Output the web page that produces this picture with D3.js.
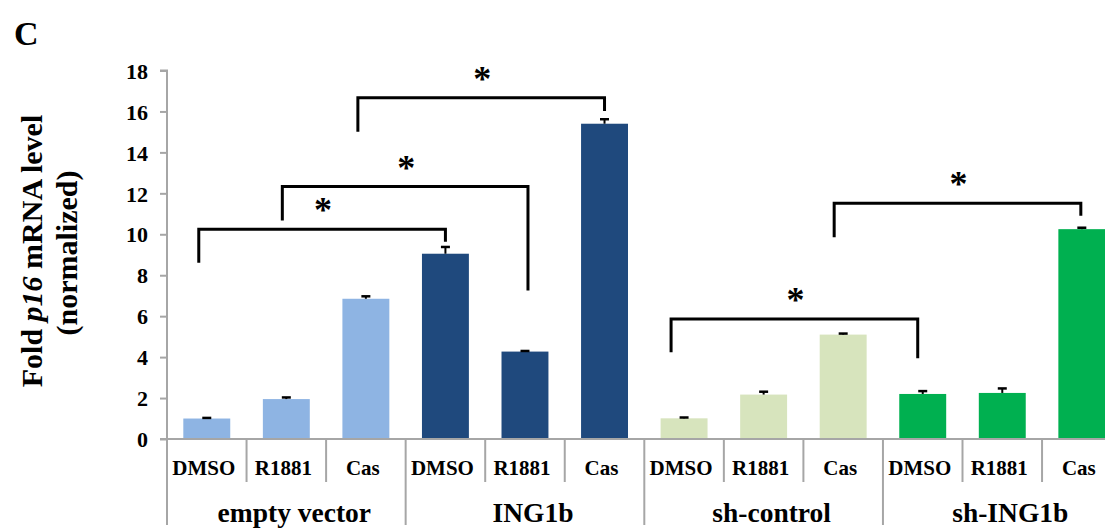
<!DOCTYPE html>
<html>
<head>
<meta charset="utf-8">
<script src="https://cdn.jsdelivr.net/npm/d3@7"></script>
<style>
  html, body { margin: 0; padding: 0; background: #fff; }
  svg { display: block; }
  text { font-family: "Liberation Serif", "Times New Roman", serif; font-weight: bold; fill: #000; }
</style>
</head>
<body>
<svg id="chart" width="1105" height="530"></svg>
<script>
// ---- data ----
const groups = ["empty vector", "ING1b", "sh-control", "sh-ING1b"];
const treatments = ["DMSO", "R1881", "Cas"];
const values = [1.0, 1.95, 6.85, 9.05, 4.27, 15.4, 1.01, 2.17, 5.1, 2.2, 2.25, 10.25];
const errors = [0.03, 0.08, 0.12, 0.33, 0.03, 0.22, 0.04, 0.14, 0.05, 0.14, 0.22, 0.07];
const yTicks = [0, 2, 4, 6, 8, 10, 12, 14, 16, 18];
// significance brackets: from bar index, to bar index, bracket level, left leg end, right leg end
const bracketFrom = [0, 1, 2, 6, 8];
const bracketTo = [3, 4, 5, 9, 11];
const bracketLevel = [10.24, 12.33, 16.67, 5.86, 11.51];
const bracketLeftEnd = [8.61, 10.67, 15.01, 4.24, 9.85];
const bracketRightEnd = [9.64, 7.25, 16.02, 3.94, 10.91];
const bracketLabel = ["*", "*", "*", "*", "*"];

const groupColors = ["#8EB4E3", "#1F497D", "#D7E4BD", "#00B050"];

// ---- layout ----
const svg = d3.select("#chart");
const x0 = 167, bandW = 79.55;
const idx = d3.range(values.length);
const x = d3.scaleBand().domain(idx).range([x0, x0 + bandW * idx.length]).padding(0);
const y = d3.scaleLinear().domain([0, 18]).range([439, 70.5]);
const barW = x.bandwidth() * 0.59;
const axisGray = "#A6A6A6";

// y axis
const yAxis = d3.axisLeft(y).tickValues(yTicks).tickSize(7).tickPadding(12).tickFormat(d3.format("d"));
const gy = svg.append("g").attr("transform", `translate(${x0},0)`).call(yAxis);
gy.attr("font-family", null);
gy.select(".domain").attr("stroke", axisGray).attr("stroke-width", 2).attr("d", `M-7,${y(18)}H0V${y(0)}`);
gy.selectAll(".tick line").attr("stroke", axisGray).attr("stroke-width", 2);
gy.selectAll(".tick text").style("font-family", '"Liberation Serif", serif').style("font-weight", "bold").style("font-size", "22px").attr("fill", "#000").attr("dy", "0.35em");

// bars
svg.append("g").selectAll("rect").data(values).join("rect")
  .attr("x", (d, i) => x(i) + (x.bandwidth() - barW) / 2)
  .attr("y", d => y(d))
  .attr("width", barW)
  .attr("height", d => y(0) - y(d))
  .attr("fill", (d, i) => groupColors[Math.floor(i / 3)]);

// error bars
const eg = svg.append("g").attr("stroke", "#000").attr("stroke-width", 2);
values.forEach((v, i) => {
  const cx = x(i) + x.bandwidth() / 2;
  eg.append("line").attr("x1", cx).attr("x2", cx).attr("y1", y(v)).attr("y2", y(v + errors[i]));
  eg.append("line").attr("x1", cx - 4.5).attr("x2", cx + 4.5).attr("y1", y(v + errors[i])).attr("y2", y(v + errors[i])).attr("stroke-width", 2.5);
});

// x axis baseline
svg.append("line").attr("x1", x0 - 7).attr("x2", 1105).attr("y1", y(0)).attr("y2", y(0))
  .attr("stroke", axisGray).attr("stroke-width", 2);

// category dividers
const divG = svg.append("g").attr("stroke", axisGray).attr("stroke-width", 2);
d3.range(values.length + 1).forEach(k => {
  const xx = x0 + k * x.bandwidth();
  divG.append("line").attr("x1", xx).attr("x2", xx).attr("y1", y(0))
    .attr("y2", k % 3 === 0 ? 525 : 482);
});

// treatment labels
svg.append("g").selectAll("text").data(idx).join("text")
  .attr("x", i => x(i) + x.bandwidth() / 2 - 3)
  .attr("y", 475)
  .attr("text-anchor", "middle")
  .style("font-size", "21px")
  .text(i => treatments[i % 3]);

// group labels
svg.append("g").selectAll("text").data(groups).join("text")
  .attr("x", (g, j) => x(j * 3) + 1.5 * x.bandwidth() + 8)
  .attr("y", 522)
  .attr("text-anchor", "middle")
  .style("font-size", "27.5px")
  .text(g => g);

// significance brackets
const legNudge = [[-8, 0], [-4, 3], [-8, 0], [-13, -5], [-9, -1]];
const bg = svg.append("g");
bracketFrom.forEach((f, k) => {
  const xl = x(f) + x.bandwidth() / 2 + legNudge[k][0];
  const xr = x(bracketTo[k]) + x.bandwidth() / 2 + legNudge[k][1];
  const yl = y(bracketLevel[k]);
  bg.append("path")
    .attr("d", `M${xl},${y(bracketLeftEnd[k])}V${yl}H${xr}V${y(bracketRightEnd[k])}`)
    .attr("fill", "none").attr("stroke", "#000").attr("stroke-width", 3);
  bg.append("text")
    .attr("x", (xl + xr) / 2 + 1)
    .attr("y", yl - 7)
    .attr("text-anchor", "middle")
    .style("font-size", "36px")
    .text(bracketLabel[k]);
});

// y axis title
const title = svg.append("text")
  .attr("transform", "translate(42,251) rotate(-90)")
  .attr("text-anchor", "middle")
  .style("font-size", "30px");
title.append("tspan").text("Fold ");
title.append("tspan").style("font-style", "italic").text("p16");
title.append("tspan").text(" mRNA level");
svg.append("text")
  .attr("transform", "translate(77,253) rotate(-90)")
  .attr("text-anchor", "middle")
  .style("font-size", "30px")
  .text("(normalized)");

// panel letter
svg.append("text").attr("x", 14).attr("y", 45).style("font-size", "34px").text("C");
</script>
</body>
</html>
